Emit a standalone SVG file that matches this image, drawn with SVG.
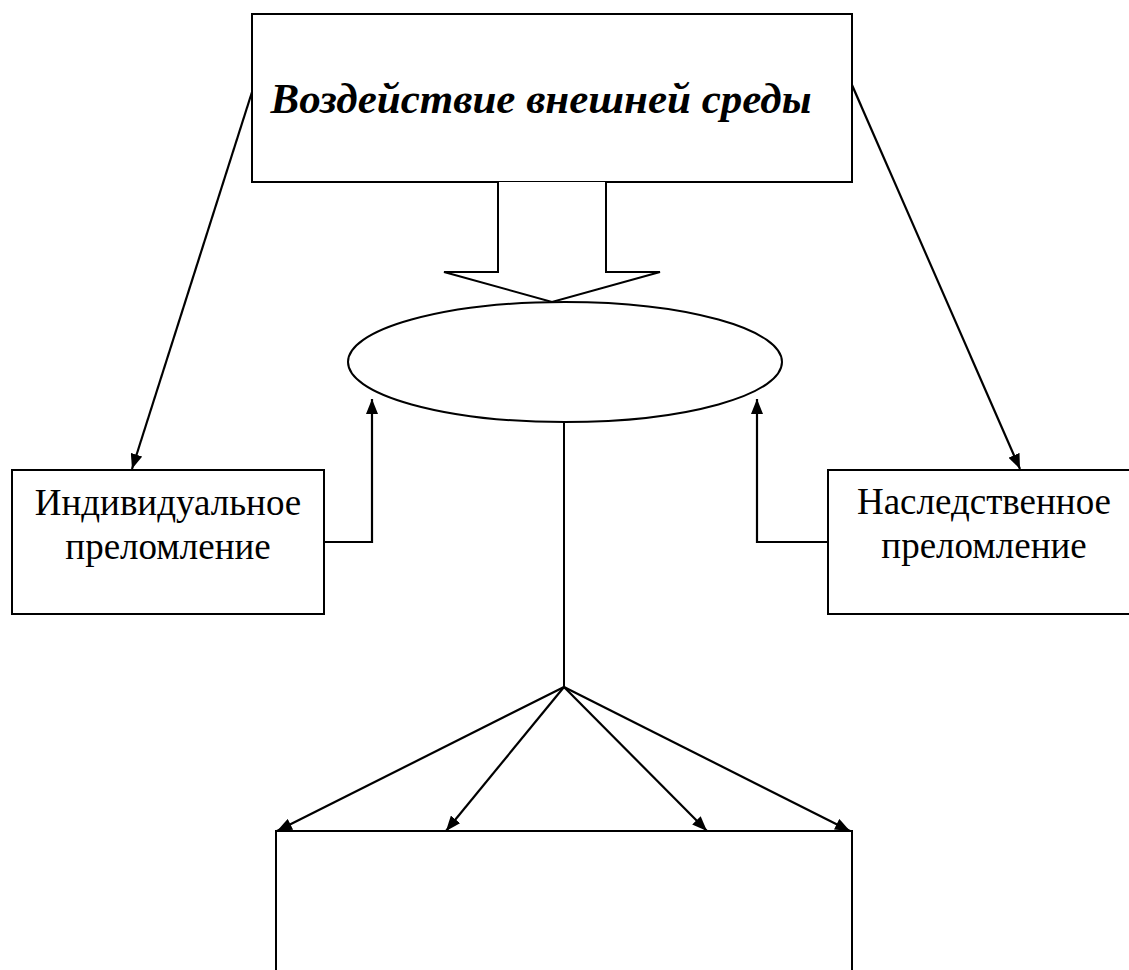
<svg xmlns="http://www.w3.org/2000/svg" width="1129" height="970" viewBox="0 0 1129 970">
<style>
.box{fill:#fff;stroke:#000;stroke-width:2}
.ln{fill:none;stroke:#000;stroke-width:2.2}
.t{font-family:"Liberation Serif","Times New Roman",serif;font-size:37px;fill:#000;text-anchor:middle}
.tb{font-family:"Liberation Serif","Times New Roman",serif;font-size:43px;font-weight:bold;font-style:italic;fill:#000;text-anchor:middle}
</style>
<defs>
<marker id="ahb" viewBox="0 0 15 12" refX="15" refY="6" markerWidth="15" markerHeight="12" markerUnits="userSpaceOnUse" orient="auto">
<path d="M0,0 L15,6 L0,12 z" fill="#000"/>
</marker>
</defs>
<g id="top">
<rect class="box" x="252" y="14" width="600" height="168"/>
<text class="tb" x="541" y="113">Воздействие внешней среды</text>
</g>
<g id="blockarrow">
<path class="box" d="M498,182 L498,272 L444,272 L552,302 L660,272 L606,272 L606,182"/>
</g>
<g id="ellipse">
<ellipse class="box" cx="565" cy="362" rx="217" ry="60"/>
</g>
<g id="left">
<rect class="box" x="12" y="470" width="312" height="144"/>
<text class="t" x="168" y="515">Индивидуальное</text>
<text class="t" x="168" y="559">преломление</text>
</g>
<g id="right">
<rect class="box" x="828" y="470" width="310" height="144"/>
<text class="t" x="984" y="514">Наследственное</text>
<text class="t" x="984" y="558">преломление</text>
</g>
<g id="bottom">
<path class="box" d="M276,972 L276,831 L852,831 L852,972"/>
</g>
<g id="connectors">
<line class="ln" x1="252" y1="92" x2="132" y2="469" marker-end="url(#ahb)"/>
<line class="ln" x1="852" y1="85" x2="1020" y2="469" marker-end="url(#ahb)"/>
<polyline class="ln" points="324,542 372,542 372,399" marker-end="url(#ahb)"/>
<polyline class="ln" points="828,542 757,542 757,399" marker-end="url(#ahb)"/>
<line class="box" x1="564" y1="422" x2="564" y2="687"/>
<line class="ln" x1="564" y1="687" x2="277" y2="831" marker-end="url(#ahb)"/>
<line class="ln" x1="564" y1="687" x2="446" y2="831" marker-end="url(#ahb)"/>
<line class="ln" x1="564" y1="687" x2="707" y2="831" marker-end="url(#ahb)"/>
<line class="ln" x1="564" y1="687" x2="850" y2="831" marker-end="url(#ahb)"/>
</g>
</svg>
